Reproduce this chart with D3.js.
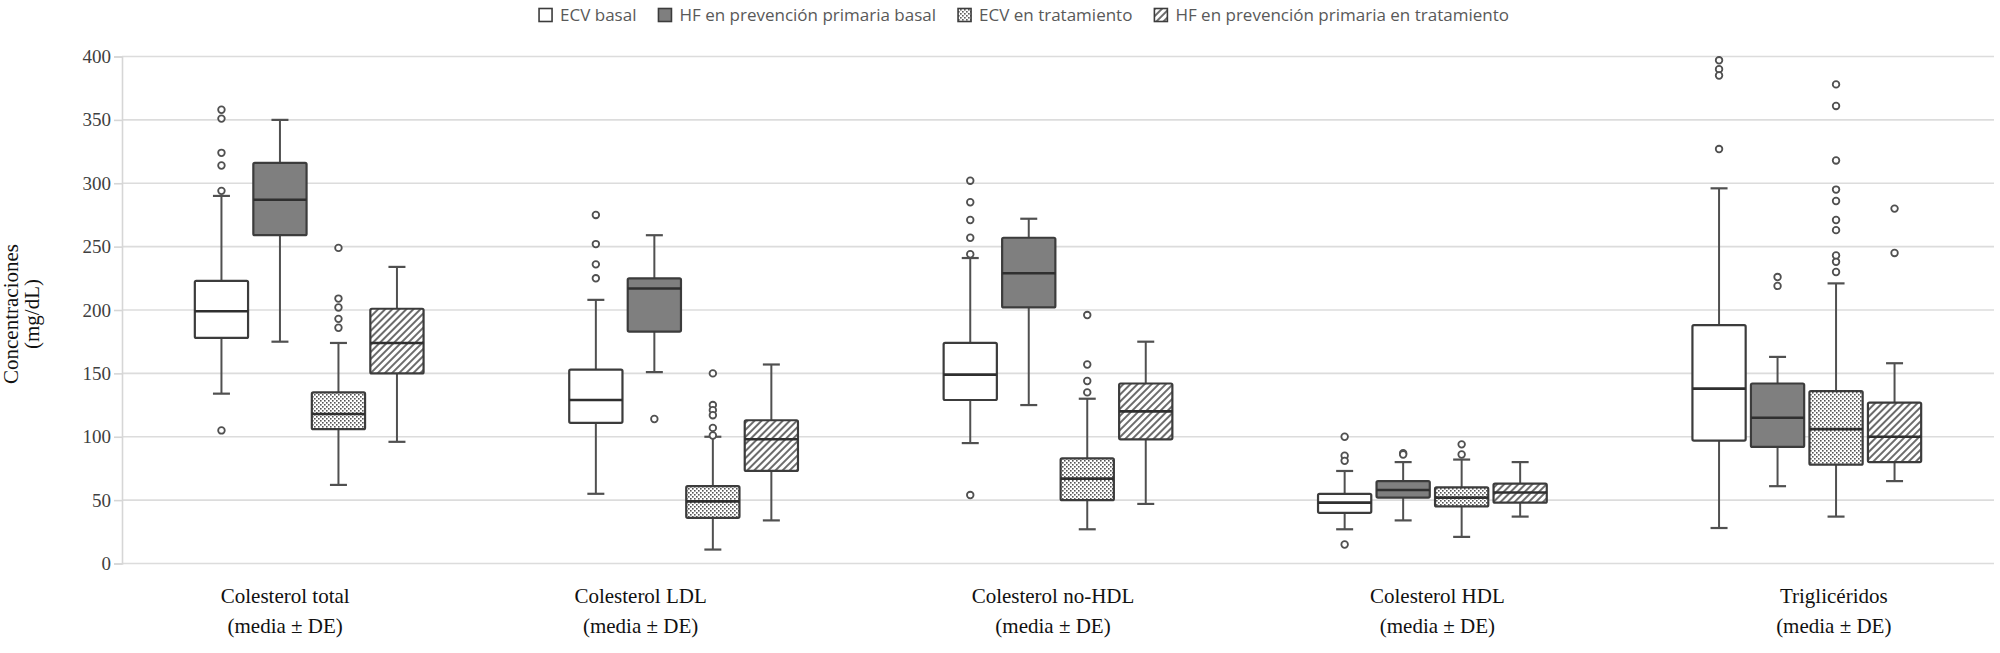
<!DOCTYPE html>
<html>
<head>
<meta charset="utf-8">
<script src="https://cdn.jsdelivr.net/npm/d3@7"></script>
<style>
  html, body { margin: 0; padding: 0; background: #fff; }
  svg { display: block; }
</style>
</head>
<body>
<script>
// categories and series
const categories = ["Colesterol total", "Colesterol LDL", "Colesterol no-HDL", "Colesterol HDL", "Triglicéridos"];
const subLabel = "(media ± DE)";
const seriesNames = ["ECV basal", "HF en prevención primaria basal", "ECV en tratamiento", "HF en prevención primaria en tratamiento"];
const yTicks = [0, 50, 100, 150, 200, 250, 300, 350, 400];

// [whisker low, Q1, median, Q3, whisker high] per category
const ecvBasal = [[134, 178, 199, 223, 290], [55, 111, 129, 153, 208], [95, 129, 149, 174, 241], [27, 40, 48, 55, 73], [28, 97, 138, 188, 296]];
const hfBasal  = [[175, 259, 287, 316, 350], [151, 183, 217, 225, 259], [125, 202, 229, 257, 272], [34, 52, 58, 65, 80], [61, 92, 115, 142, 163]];
const ecvTrat  = [[62, 106, 118, 135, 174], [11, 36, 49, 61, 100], [27, 50, 67, 83, 130], [21, 45, 52, 60, 82], [37, 78, 106, 136, 221]];
const hfTrat   = [[96, 150, 174, 201, 234], [34, 73, 98, 113, 157], [47, 98, 120, 142, 175], [37, 48, 56, 63, 80], [65, 80, 100, 127, 158]];

// outliers per category
const ecvBasalOut = [[358, 351, 324, 314, 294, 105], [275, 252, 236, 225], [302, 285, 271, 257, 244, 54], [100, 85, 81, 15], [397, 390, 385, 327]];
const hfBasalOut  = [[], [114], [], [87, 86], [226, 219]];
const ecvTratOut  = [[249, 209, 202, 193, 186], [150, 125, 121, 117, 107, 101], [196, 157, 144, 135], [94, 86], [378, 361, 318, 295, 286, 271, 263, 243, 238, 230]];
const hfTratOut   = [[], [], [], [], [280, 245]];

// the category labels in the original are not exactly centred under the groups
const labelShift = [-24, -43, -5, 5, 27];

const series = [
  {name: seriesNames[0], stats: ecvBasal, out: ecvBasalOut, fill: "#fff"},
  {name: seriesNames[1], stats: hfBasal, out: hfBasalOut, fill: "#7f7f7f"},
  {name: seriesNames[2], stats: ecvTrat, out: ecvTratOut, fill: "url(#dots)"},
  {name: seriesNames[3], stats: hfTrat, out: hfTratOut, fill: "url(#hatch)"}
];

const W = 2000, H = 653;
const svg = d3.select("body").append("svg").attr("width", W).attr("height", H);

const defs = svg.append("defs");
const dots = defs.append("pattern").attr("id", "dots")
  .attr("patternUnits", "userSpaceOnUse").attr("width", 4).attr("height", 4);
dots.append("rect").attr("width", 4).attr("height", 4).attr("fill", "#fff");
dots.append("rect").attr("x", 0).attr("y", 0).attr("width", 1.6).attr("height", 1.6).attr("fill", "#555");
dots.append("rect").attr("x", 2).attr("y", 2).attr("width", 1.6).attr("height", 1.6).attr("fill", "#555");

const hatch = defs.append("pattern").attr("id", "hatch")
  .attr("patternUnits", "userSpaceOnUse").attr("width", 5).attr("height", 5)
  .attr("patternTransform", "rotate(45)");
hatch.append("rect").attr("width", 5).attr("height", 5).attr("fill", "#fff");
hatch.append("line").attr("x1", 1).attr("x2", 1).attr("y1", 0).attr("y2", 5)
  .attr("stroke", "#3a3a3a").attr("stroke-width", 1.5);

const y = d3.scaleLinear().domain([0, 400]).range([563.5, 56.5]);
const x = d3.scaleBand().domain(categories).range([122, 1994]).padding(0);
const xs = d3.scaleBand().domain(d3.range(4)).range([-117, 117]).paddingInner(0.09).paddingOuter(0.045);

// gridlines
svg.append("g").selectAll("line").data(yTicks).join("line")
  .attr("x1", 122).attr("x2", 1994)
  .attr("y1", d => y(d)).attr("y2", d => y(d))
  .attr("stroke", "#dcdcdc").attr("stroke-width", 1.6);

// y axis
const yAxis = svg.append("g").attr("transform", "translate(122,0)")
  .call(d3.axisLeft(y).tickValues(yTicks).tickSize(8).tickPadding(3));
yAxis.select(".domain").attr("stroke", "#d6d6d6").attr("stroke-width", 1.6);
yAxis.selectAll(".tick line").attr("stroke", "#d6d6d6").attr("stroke-width", 1.6);
yAxis.selectAll(".tick text").attr("fill", "#404040")
  .style("font-family", "'Liberation Serif', serif").style("font-size", "19px");

// y title
const yt = svg.append("text").attr("transform", "translate(18,314) rotate(-90)")
  .attr("text-anchor", "middle")
  .style("font-family", "'Liberation Serif', serif").style("font-size", "21px").attr("fill", "#111");
yt.append("tspan").attr("x", 0).attr("dy", 0).text("Concentraciones");
yt.append("tspan").attr("x", 0).attr("dy", 21).text("(mg/dL)");

// category labels
const cx0 = (d, i) => x(d) + x.bandwidth() / 2 + labelShift[i];
const cl = svg.append("g").selectAll("text").data(categories).join("text")
  .attr("text-anchor", "middle")
  .style("font-family", "'Liberation Serif', serif").style("font-size", "21px").attr("fill", "#111");
cl.append("tspan").attr("x", cx0).attr("y", 603).text(d => d);
cl.append("tspan").attr("x", cx0).attr("y", 633).text(subLabel);

// boxes
const stroke = "#3c3c3c";
const bw = xs.bandwidth();
series.forEach((s, si) => {
  const g = svg.append("g");
  categories.forEach((c, ci) => {
    const [lo, q1, med, q3, hi] = s.stats[ci];
    const cx = x(c) + x.bandwidth() / 2 + xs(si) + bw / 2;
    const left = cx - bw / 2;
    // whiskers
    g.append("line").attr("x1", cx).attr("x2", cx).attr("y1", y(hi)).attr("y2", y(q3))
      .attr("stroke", "#505050").attr("stroke-width", 2);
    g.append("line").attr("x1", cx).attr("x2", cx).attr("y1", y(q1)).attr("y2", y(lo))
      .attr("stroke", "#505050").attr("stroke-width", 2);
    [lo, hi].forEach(v => g.append("line")
      .attr("x1", cx - 8.5).attr("x2", cx + 8.5).attr("y1", y(v)).attr("y2", y(v))
      .attr("stroke", "#505050").attr("stroke-width", 2.2));
    // box
    g.append("rect").attr("x", left).attr("y", y(q3))
      .attr("width", bw).attr("height", y(q1) - y(q3))
      .attr("rx", 1.5)
      .attr("fill", s.fill).attr("stroke", stroke).attr("stroke-width", 2.2);
    g.append("line").attr("x1", left).attr("x2", left + bw).attr("y1", y(med)).attr("y2", y(med))
      .attr("stroke", "#2f2f2f").attr("stroke-width", 2.6);
    // outliers
    g.selectAll(null).data(s.out[ci]).enter().append("circle")
      .attr("cx", cx).attr("cy", d => y(d)).attr("r", 3.3)
      .attr("fill", "#fff").attr("stroke", "#505050").attr("stroke-width", 1.8);
  });
});

// legend
const leg = svg.append("g");
let lx = 0;
series.forEach(s => {
  const it = leg.append("g").attr("transform", `translate(${lx},0)`);
  it.append("rect").attr("x", 0).attr("y", -6.5).attr("width", 13).attr("height", 13)
    .attr("fill", s.fill).attr("stroke", stroke).attr("stroke-width", 1.6);
  const t = it.append("text").attr("x", 21).attr("y", 0).attr("dy", "0.35em")
    .style("font-family", "'Open Sans', sans-serif").style("font-size", "17px").attr("fill", "#595959")
    .text(s.name);
  lx += 21 + t.node().getComputedTextLength() + 22;
});
const legW = lx - 22;
leg.attr("transform", `translate(${1024 - legW / 2},15)`);
</script>
</body>
</html>
